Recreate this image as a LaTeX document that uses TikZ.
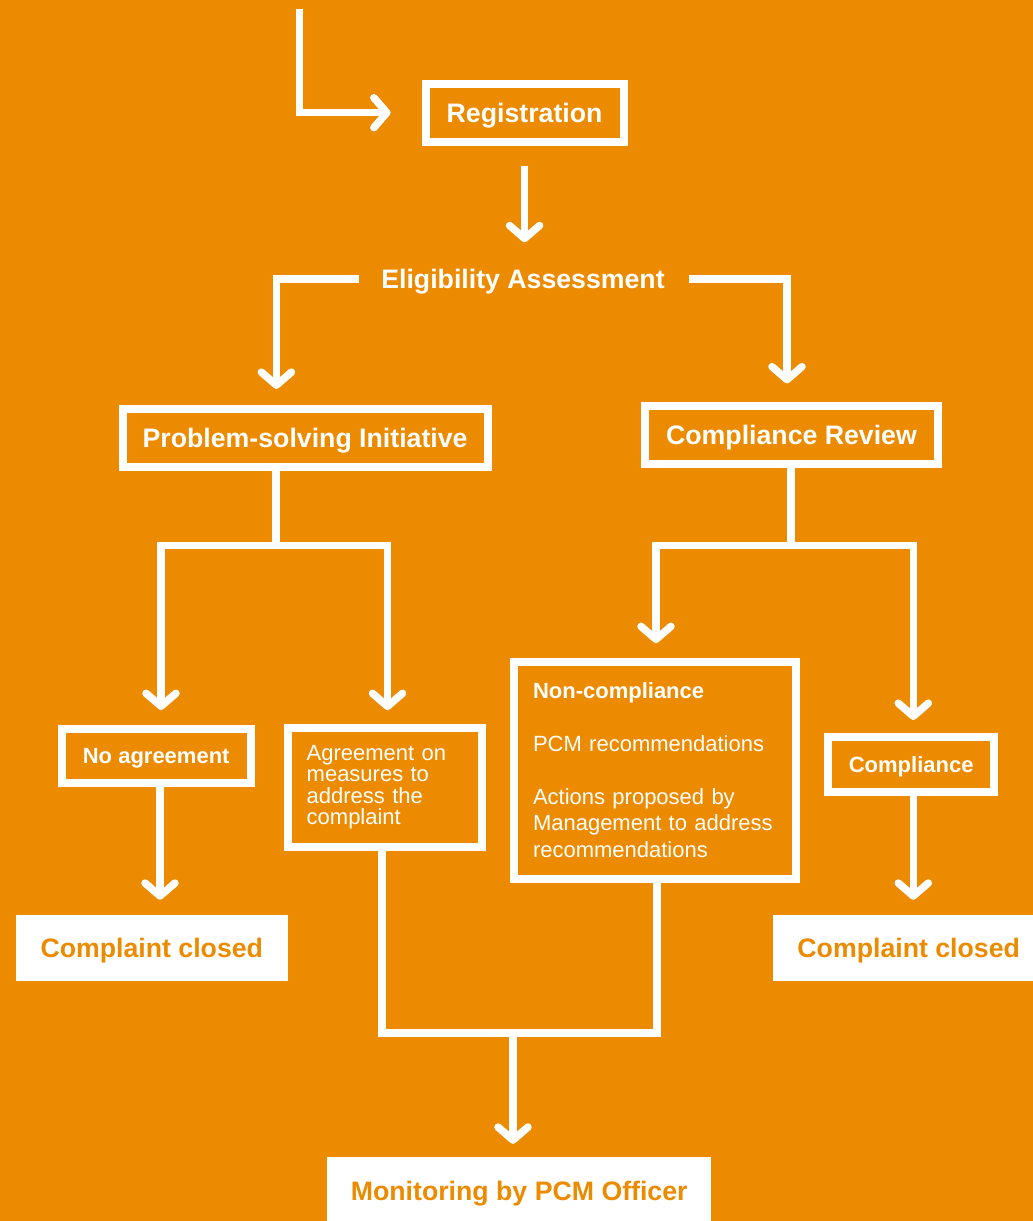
\documentclass[tikz,border=0pt]{standalone}
\usepackage{fontspec}
\setmainfont{Liberation Sans}
\usetikzlibrary{arrows.meta,calc}
\definecolor{orng}{RGB}{236,139,0}
\begin{document}
\begin{tikzpicture}[x=1pt,y=-1pt,
  conn/.style={draw=white, line width=7.5pt},
  arr/.style={-{Straight Barb[length=13pt,width=30pt,round]}},
  box/.style={draw=white, line width=8pt, text=white, inner sep=0pt},
  big/.style={font=\fontsize{26.7}{32}\selectfont\bfseries, text height=19.1pt, text depth=0pt},
  small/.style={font=\fontsize{22}{26.5}\selectfont\bfseries, text height=15.75pt, text depth=0pt},
  whitebox/.style={fill=white, text=orng, inner sep=0pt, big},
  para/.style={align=left, inner xsep=19pt, inner ysep=0pt}
]
\useasboundingbox (0,0) rectangle (1033,1221);
\clip (0,0) rectangle (1033,1221);
\fill[orng] (0,0) rectangle (1033,1221);

% nodes
\node[box, big, minimum width=198pt, minimum height=58pt] (reg) at (524.6,112.7) {Registration};
\node[big, text=white, inner sep=0pt] (elig) at (523,279) {Eligibility Assessment};
\node[box, big, minimum width=365pt, minimum height=58pt] (psi) at (305.1,438.4) {Problem-solving Initiative};
\node[box, big, minimum width=293pt, minimum height=58pt] (cr) at (791.5,434.6) {Compliance Review};
\node[box, small, minimum width=189pt, minimum height=54pt] (noag) at (156.2,756) {No agreement};
\node[box, para, minimum width=194pt, minimum height=119pt, text width=156pt,
      font=\fontsize{22}{21.3}\selectfont] (agr) at (384.7,787.1)
      {Agreement on\\measures to\\address the\\complaint};
\node[box, para, minimum width=282pt, minimum height=217pt, text width=244pt,
      font=\fontsize{22}{26.5}\selectfont] (nonc) at (655,770.1)
      {\textbf{Non-compliance}\\[26.5pt]PCM recommendations\\[26.5pt]Actions proposed by\\Management to address\\recommendations};
\node[box, small, minimum width=165.5pt, minimum height=54.7pt] (comp) at (911.2,764.3) {Compliance};
\node[whitebox, minimum width=271.7pt, minimum height=65.7pt] (cc1) at (151.8,947.8) {Complaint closed};
\node[whitebox, minimum width=271.4pt, minimum height=65.7pt] (cc2) at (908.7,947.8) {Complaint closed};
\node[whitebox, minimum width=383.7pt, minimum height=68pt] (mon) at (519.2,1191) {Monitoring by PCM Officer};

% connectors
\coordinate (start) at (299.5,9);
\draw[conn, arr, shorten >=31pt] (start) |- (reg.west);
\draw[conn, arr, shorten <=20pt, shorten >=27pt] (reg.south) -- (reg.south |- elig.north);
\draw[conn, arr, shorten <=22.3pt, shorten >=16.5pt] (elig.west) -| ([xshift=-28.7pt]psi.north);
\draw[conn, arr, shorten <=24pt, shorten >=18.2pt] (elig.east) -| ([xshift=-4.5pt]cr.north);

\coordinate (pj) at ([shift={(-29,74.2)}]psi.south);
\draw[conn] (psi.south -| pj) -- (pj);
\draw[conn, arr, shorten >=15pt] (pj) -| ([xshift=4.8pt]noag.north);
\draw[conn, arr, shorten >=13.5pt] (pj) -| ([xshift=2.8pt]agr.north);

\coordinate (cj) at ([shift={(-0.5,77.8)}]cr.south);
\draw[conn] (cr.south -| cj) -- (cj);
\draw[conn, arr, shorten >=14.5pt] (cj) -| ([xshift=1pt]nonc.north);
\draw[conn, arr, shorten >=13pt] (cj) -| ([xshift=2.1pt]comp.north);

\draw[conn, arr, shorten >=15pt] ([xshift=3.8pt]noag.south) -- ([xshift=3.8pt]noag.south |- cc1.north);
\draw[conn, arr, shorten >=15pt] ([xshift=2.1pt]comp.south) -- ([xshift=2.1pt]comp.south |- cc2.north);

\coordinate (bj) at (513,1033);
\draw[conn] ([xshift=-2.7pt]agr.south) |- ([xshift=2pt]nonc.south |- bj) -- ([xshift=2pt]nonc.south);
\draw[conn, arr, shorten >=13pt] (bj) -- (bj |- mon.north);
\end{tikzpicture}
\end{document}
